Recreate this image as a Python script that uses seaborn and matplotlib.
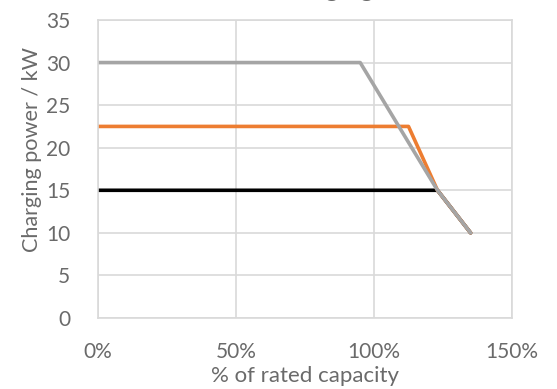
import pandas as pd
import matplotlib
matplotlib.use("Agg")
import matplotlib.pyplot as plt
import seaborn as sns

# data (x in % of rated capacity, y in kW)
series_names = ["30 kW", "22.5 kW", "15 kW"]
gray_x = [0, 95, 123, 135]
gray_y = [30, 30, 15, 10]
orange_x = [0, 112.5, 123, 135]
orange_y = [22.5, 22.5, 15, 10]
black_x = [0, 123, 135]
black_y = [15, 15, 10]

x_ticks = [0, 50, 100, 150]
x_tick_labels = ["0%", "50%", "100%", "150%"]
y_ticks = [0, 5, 10, 15, 20, 25, 30, 35]

rows = []
for name, xs, ys in [("15 kW", black_x, black_y),
                     ("22.5 kW", orange_x, orange_y),
                     ("30 kW", gray_x, gray_y)]:
    for i, (x, y) in enumerate(zip(xs, ys)):
        rows.append({"series": name, "order": i, "capacity": x, "power": y})
df = pd.DataFrame(rows)

sns.set_theme(style="white")
plt.rcParams["font.family"] = ["Lato", "DejaVu Sans"]
text_col = "#6A6A6A"
grid_col = "#D9D9D9"

fig = plt.figure(figsize=(5.57, 3.89), dpi=100)
ax = fig.add_axes([98 / 557, 1 - 318 / 389, 414 / 557, 298 / 389])

palette = {"15 kW": "#000000", "22.5 kW": "#ED7D31", "30 kW": "#A5A5A5"}
sns.lineplot(data=df, x="capacity", y="power", hue="series", units="series",
             estimator=None, sort=False, palette=palette, linewidth=2.6,
             legend=False, ax=ax)

ax.set_xlim(0, 150)
ax.set_ylim(0, 35)
ax.set_xticks(x_ticks)
ax.set_xticklabels(x_tick_labels)
ax.set_yticks(y_ticks)
ax.grid(True, color=grid_col, linewidth=1.2)
ax.set_axisbelow(True)
for s in ax.spines.values():
    s.set_color(grid_col)
    s.set_linewidth(1.2)
ax.tick_params(length=0, labelsize=15, labelcolor=text_col)
ax.tick_params(axis="x", pad=17)
ax.tick_params(axis="y", pad=20)

ax.set_xlabel("% of rated capacity", fontsize=16, color=text_col, labelpad=3)
ax.set_ylabel("Charging power / kW", fontsize=15.6, color=text_col)
ax.yaxis.set_label_coords(-0.135, 0.565)

# title sits mostly above the canvas, only the descenders show
fig.text(323 / 557, 1 + 4 / 389, "Charging", fontsize=19, color=text_col,
         ha="center", va="baseline")

fig.savefig("out.png", dpi=100)
